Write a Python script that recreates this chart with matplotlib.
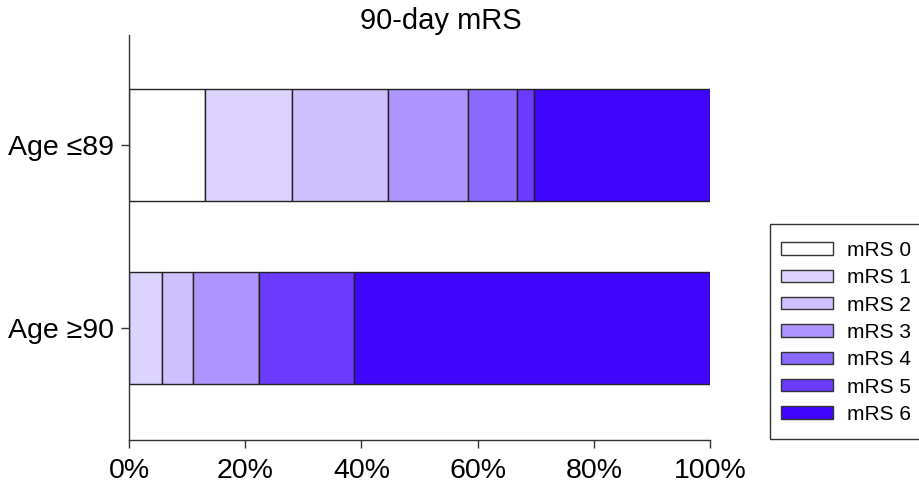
import numpy as np
import matplotlib.pyplot as plt
from matplotlib.patches import Patch, Rectangle

plt.rcParams['font.family'] = ['Liberation Sans', 'DejaVu Sans']

groups = ["Age \u226590", "Age \u226489"]
levels = ["mRS 0", "mRS 1", "mRS 2", "mRS 3", "mRS 4", "mRS 5", "mRS 6"]
# percent of patients per mRS level, one list per group
age90 = [0.0, 5.6, 5.5, 11.2, 0.0, 16.5, 61.2]
age89 = [13.1, 14.9, 16.5, 13.8, 8.5, 2.9, 30.3]
colors = ["#ffffff", "#dcd4fe", "#cfc1fe", "#ae95fe", "#8c69fe", "#6b3afe", "#3f05fe"]

W, H = 919, 491
fig = plt.figure(figsize=(W / 100, H / 100), dpi=100)
ax = fig.add_axes([129/W, 1 - 440/H, 581/W, 405/H])

data = np.array([age90, age89])
left = np.zeros(2)
for i in range(len(levels)):
    ax.barh([0, 1], data[:, i], left=left, height=0.607, color=colors[i],
            edgecolor="#222222", linewidth=1.0)
    left += data[:, i]

ax.set_xlim(0, 100)
ax.set_ylim(-0.612, 1.601)
ax.set_xticks(np.arange(0, 101, 20))
ax.set_xticklabels([f"{t}%" for t in range(0, 101, 20)])
ax.set_yticks([0, 1])
ax.set_yticklabels(groups)
ax.tick_params(labelsize=20.5, length=6, width=1, colors="#333333", labelcolor="black")
ax.tick_params(axis="x", pad=7)
ax.tick_params(axis="y", pad=5)
for s in ["top", "right"]:
    ax.spines[s].set_visible(False)
for s in ["left", "bottom"]:
    ax.spines[s].set_color("#333333")
    ax.spines[s].set_linewidth(1)

fig.text(441/W, 1 - 21/H, "90-day mRS", fontsize=21, ha="center", va="center")

# legend box drawn by hand so it can run off the right edge like the original
fig.add_artist(Rectangle((770/W, 1 - 439/H), 160/W, 215/H, transform=fig.transFigure,
                         facecolor="white", edgecolor="#333333", linewidth=1))
handles = [Patch(facecolor=c, edgecolor="#333333", linewidth=1) for c in colors]
fig.legend(handles, levels, loc="upper left", bbox_to_anchor=(781/W, 1 - 241/H),
           fontsize=15, frameon=False,
           handlelength=2.5, handleheight=0.53, labelspacing=0.40,
           handletextpad=0.68, borderpad=0.0, borderaxespad=0)

fig.savefig("out.png", dpi=100)
